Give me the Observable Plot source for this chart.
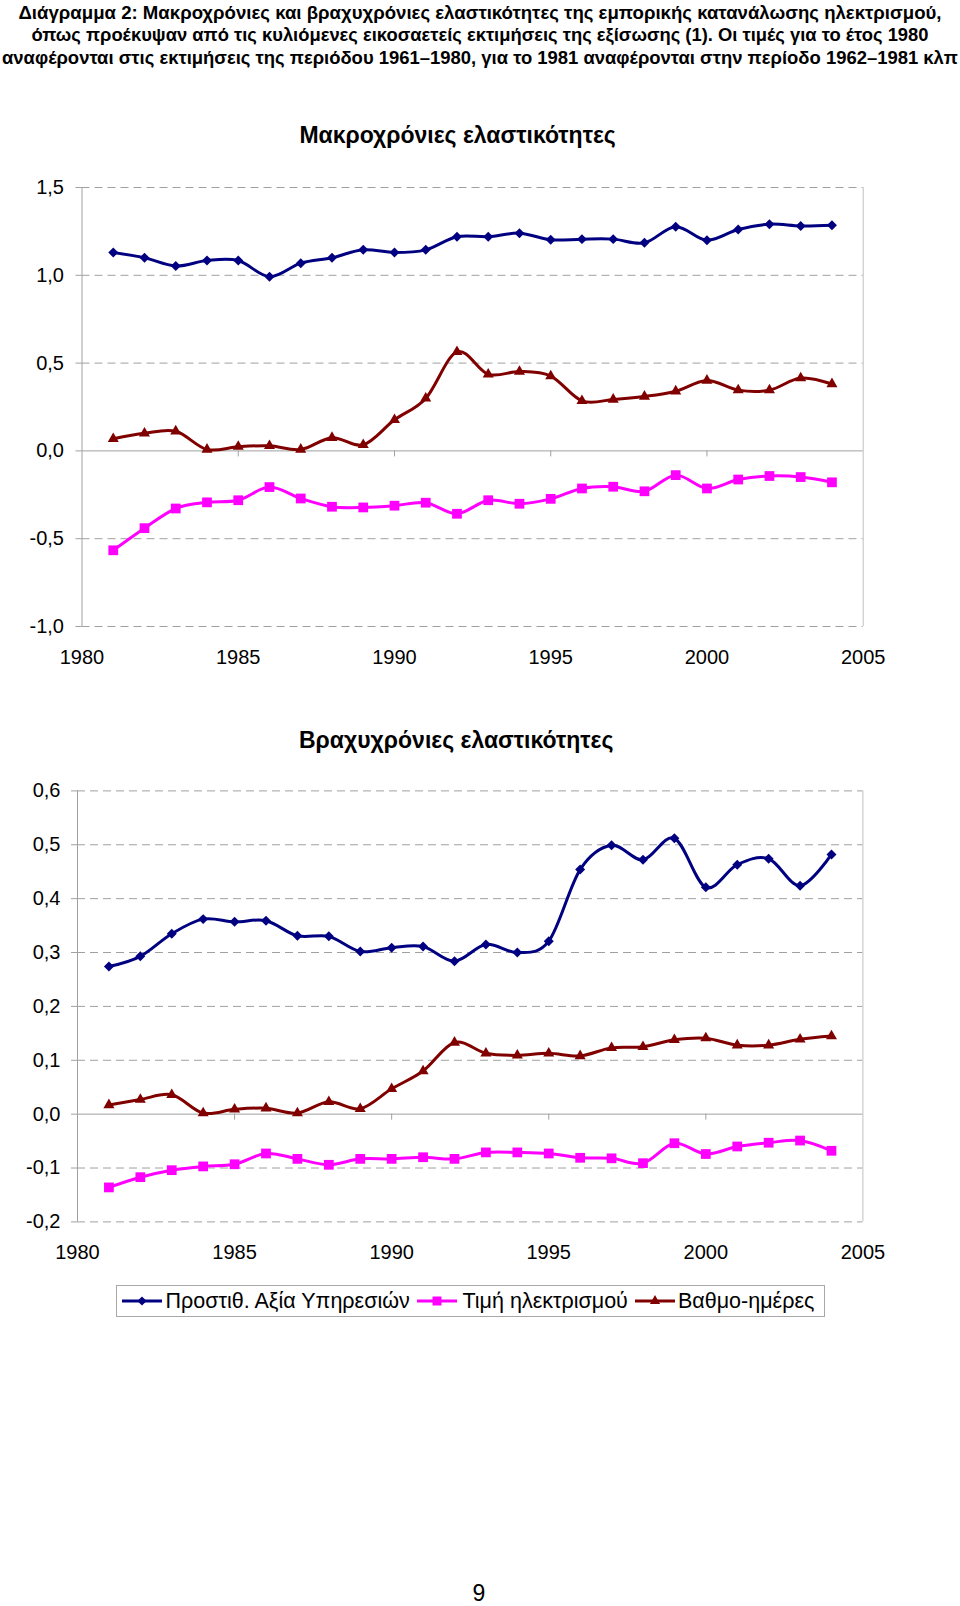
<!DOCTYPE html>
<html>
<head>
<meta charset="utf-8">
<script src="https://cdn.jsdelivr.net/npm/d3@7"></script>
<script src="https://cdn.jsdelivr.net/npm/@observablehq/plot@0.6"></script>
<style>
  body { margin: 0; background: #fff; font-family: "Liberation Sans", Arial, sans-serif; color: #000; }
  #page { position: relative; width: 960px; height: 1606px; overflow: hidden; background: #fff; }
  #title { position: absolute; left: 0; top: 0; }
  #legend { position: absolute; left: 115.5px; top: 1285px; width: 709px; height: 32px; border: 1px solid #a8a8a8; box-sizing: border-box; }
  .item { position: absolute; top: 0; height: 30px; display: flex; align-items: center; font-size: 21.5px; white-space: nowrap; }
  #pagenum { position: absolute; left: 0; width: 958px; top: 1580px; text-align: center; font-size: 23px; }
  .chart { position: absolute; left: 0; }
</style>
</head>
<body>
<div id="page">
  <svg id="title" width="960" height="75" font-family="Liberation Sans, Arial, sans-serif" font-weight="bold" font-size="18" text-anchor="middle">
    <text x="480" y="18.5" textLength="923" lengthAdjust="spacingAndGlyphs">Διάγραμμα 2: Μακροχρόνιες και βραχυχρόνιες ελαστικότητες της εμπορικής κατανάλωσης ηλεκτρισμού,</text>
    <text x="480" y="41" textLength="897" lengthAdjust="spacingAndGlyphs">όπως προέκυψαν από τις κυλιόμενες εικοσαετείς εκτιμήσεις της εξίσωσης (1). Οι τιμές για το έτος 1980</text>
    <text x="480" y="63.5" textLength="956" lengthAdjust="spacingAndGlyphs">αναφέρονται στις εκτιμήσεις της περιόδου 1961–1980, για το 1981 αναφέρονται στην περίοδο 1962–1981 κλπ</text>
  </svg>
  <div id="legend"></div>
  <div id="pagenum">9</div>
</div>
<script>
// ---------- data ----------
const years = [1981,1982,1983,1984,1985,1986,1987,1988,1989,1990,1991,1992,1993,1994,1995,1996,1997,1998,1999,2000,2001,2002,2003,2004];
const seriesNames = ["Προστιθ. Αξία Υπηρεσιών", "Τιμή ηλεκτρισμού", "Βαθμο-ημέρες"];

// Long-run elasticities
const ltValueAdded = [1.130,1.100,1.053,1.084,1.084,0.992,1.069,1.100,1.145,1.130,1.145,1.220,1.220,1.240,1.202,1.206,1.206,1.185,1.277,1.200,1.261,1.291,1.281,1.285];
const ltPrice      = [-0.566,-0.440,-0.328,-0.293,-0.281,-0.206,-0.271,-0.318,-0.322,-0.312,-0.295,-0.358,-0.281,-0.301,-0.273,-0.214,-0.204,-0.230,-0.138,-0.214,-0.163,-0.143,-0.149,-0.179];
const ltDegreeDays = [0.069,0.100,0.112,0.008,0.024,0.029,0.008,0.075,0.035,0.177,0.299,0.564,0.436,0.452,0.426,0.285,0.293,0.310,0.340,0.401,0.346,0.346,0.415,0.381];

// Short-run elasticities
const stValueAdded = [0.274,0.293,0.335,0.362,0.357,0.359,0.331,0.330,0.302,0.309,0.311,0.284,0.315,0.300,0.321,0.454,0.499,0.472,0.512,0.421,0.463,0.474,0.424,0.482];
const stPrice      = [-0.136,-0.117,-0.104,-0.097,-0.093,-0.073,-0.083,-0.094,-0.083,-0.083,-0.080,-0.083,-0.071,-0.071,-0.073,-0.081,-0.082,-0.091,-0.054,-0.074,-0.060,-0.053,-0.049,-0.068];
const stDegreeDays = [0.017,0.027,0.036,0.002,0.009,0.011,0.002,0.023,0.010,0.047,0.080,0.133,0.113,0.109,0.113,0.108,0.123,0.125,0.138,0.141,0.128,0.128,0.139,0.145];

const xTicks  = [1980, 1985, 1990, 1995, 2000, 2005];
const ltTicks = [-1.0, -0.5, 0.0, 0.5, 1.0, 1.5];
const stTicks = [-0.2, -0.1, 0.0, 0.1, 0.2, 0.3, 0.4, 0.5, 0.6];
const ltTitle = "Μακροχρόνιες ελαστικότητες";
const stTitle = "Βραχυχρόνιες ελαστικότητες";

// ---------- styles ----------
const seriesStyle = {
  "Προστιθ. Αξία Υπηρεσιών": {color: "#000080", symbol: "diamond2", r: 4.5, d3sym: d3.symbolDiamond2, swatchLeft: 5.5,   textLeft: 49},
  "Τιμή ηλεκτρισμού":        {color: "#ff00ff", symbol: "square",   r: 5.5, d3sym: d3.symbolSquare,   swatchLeft: 300.5, textLeft: 346},
  "Βαθμο-ημέρες":            {color: "#800000", symbol: "triangle", r: 4.1, d3sym: d3.symbolTriangle, swatchLeft: 518.5, textLeft: 561.5}
};
const gridColor = "#a0a0a0";
const fmt = d => d.toFixed(1).replace(".", ",");

function makeChart(valueArrays, yTicks, title, cfg) {
  const data = [];
  seriesNames.forEach((s, k) => years.forEach((yr, i) => data.push({year: yr, value: valueArrays[k][i], series: s})));
  const marks = [
    Plot.ruleY(yTicks.filter(d => d !== 0), {stroke: gridColor, strokeDasharray: "8,5"}),
    Plot.ruleX([xTicks[xTicks.length - 1]], {stroke: "#c0c0c0"}),
    Plot.ruleX([xTicks[0]], {stroke: gridColor}),
    Plot.ruleY([0], {stroke: gridColor}),
    Plot.ruleX(xTicks.slice(1, -1), {x: d => d, y1: () => 0, y2: () => 0, insetBottom: -6, stroke: gridColor}),
    Plot.axisY({ticks: yTicks, tickFormat: fmt, tickSize: 6, tickPadding: cfg.tickPad, stroke: gridColor, fill: "#000", fontSize: 20, label: null}),
    Plot.axisX({ticks: xTicks, tickFormat: d => String(d), tickSize: 0, tickPadding: 23, fill: "#000", fontSize: 20, label: null}),
    Plot.line(data, {x: "year", y: "value", z: "series", stroke: "series", strokeWidth: 3, curve: "cardinal"})
  ];
  seriesNames.forEach(s => {
    const st = seriesStyle[s];
    marks.push(Plot.dot(data.filter(d => d.series === s), {x: "year", y: "value", symbol: () => st.symbol, r: st.r, fill: st.color, stroke: "none"}));
  });
  marks.push(Plot.text([title], {frameAnchor: "top", lineAnchor: "middle", dy: cfg.titleDy, dx: cfg.titleDx, fontSize: 23, fontWeight: "bold", fill: "#000"}));
  const svg = Plot.plot({
    width: 960,
    height: cfg.height,
    marginTop: cfg.mt, marginBottom: cfg.mb, marginLeft: cfg.ml, marginRight: cfg.mr,
    style: {fontFamily: '"Liberation Sans", Arial, sans-serif', fontSize: "20px", color: "#000", background: "transparent", overflow: "visible"},
    x: {domain: [xTicks[0], xTicks[xTicks.length - 1]], label: null},
    y: {domain: [yTicks[0], yTicks[yTicks.length - 1]], label: null},
    color: {domain: seriesNames, range: seriesNames.map(s => seriesStyle[s].color)},
    symbol: {type: "identity"},
    marks
  });
  svg.classList.add("chart");
  svg.style.top = cfg.top + "px";
  document.getElementById("page").appendChild(svg);
}

makeChart([ltValueAdded, ltPrice, ltDegreeDays], ltTicks, ltTitle,
  {top: 100, height: 580, mt: 87, mb: 54, ml: 81.5, mr: 97.3, tickPad: 12, titleDy: -51.5, titleDx: -15});
makeChart([stValueAdded, stPrice, stDegreeDays], stTicks, stTitle,
  {top: 690, height: 580, mt: 100.4, mb: 48.6, ml: 77, mr: 97.6, tickPad: 11, titleDy: -50.4, titleDx: -14});

// ---------- legend ----------
const legend = document.getElementById("legend");
seriesNames.forEach(s => {
  const st = seriesStyle[s];
  const sw = d3.create("svg").attr("width", 40).attr("height", 20)
    .style("position", "absolute").style("left", st.swatchLeft + "px").style("top", "5px");
  sw.append("line").attr("x1", 0).attr("x2", 40).attr("y1", 10).attr("y2", 10).attr("stroke", st.color).attr("stroke-width", 3);
  sw.append("path").attr("transform", "translate(20,10)").attr("d", d3.symbol(st.d3sym, Math.PI * st.r * st.r * 0.85)()).attr("fill", st.color);
  legend.appendChild(sw.node());
  const t = document.createElement("div");
  t.className = "item";
  t.style.left = st.textLeft + "px";
  t.textContent = s;
  legend.appendChild(t);
});
</script>
</body>
</html>
